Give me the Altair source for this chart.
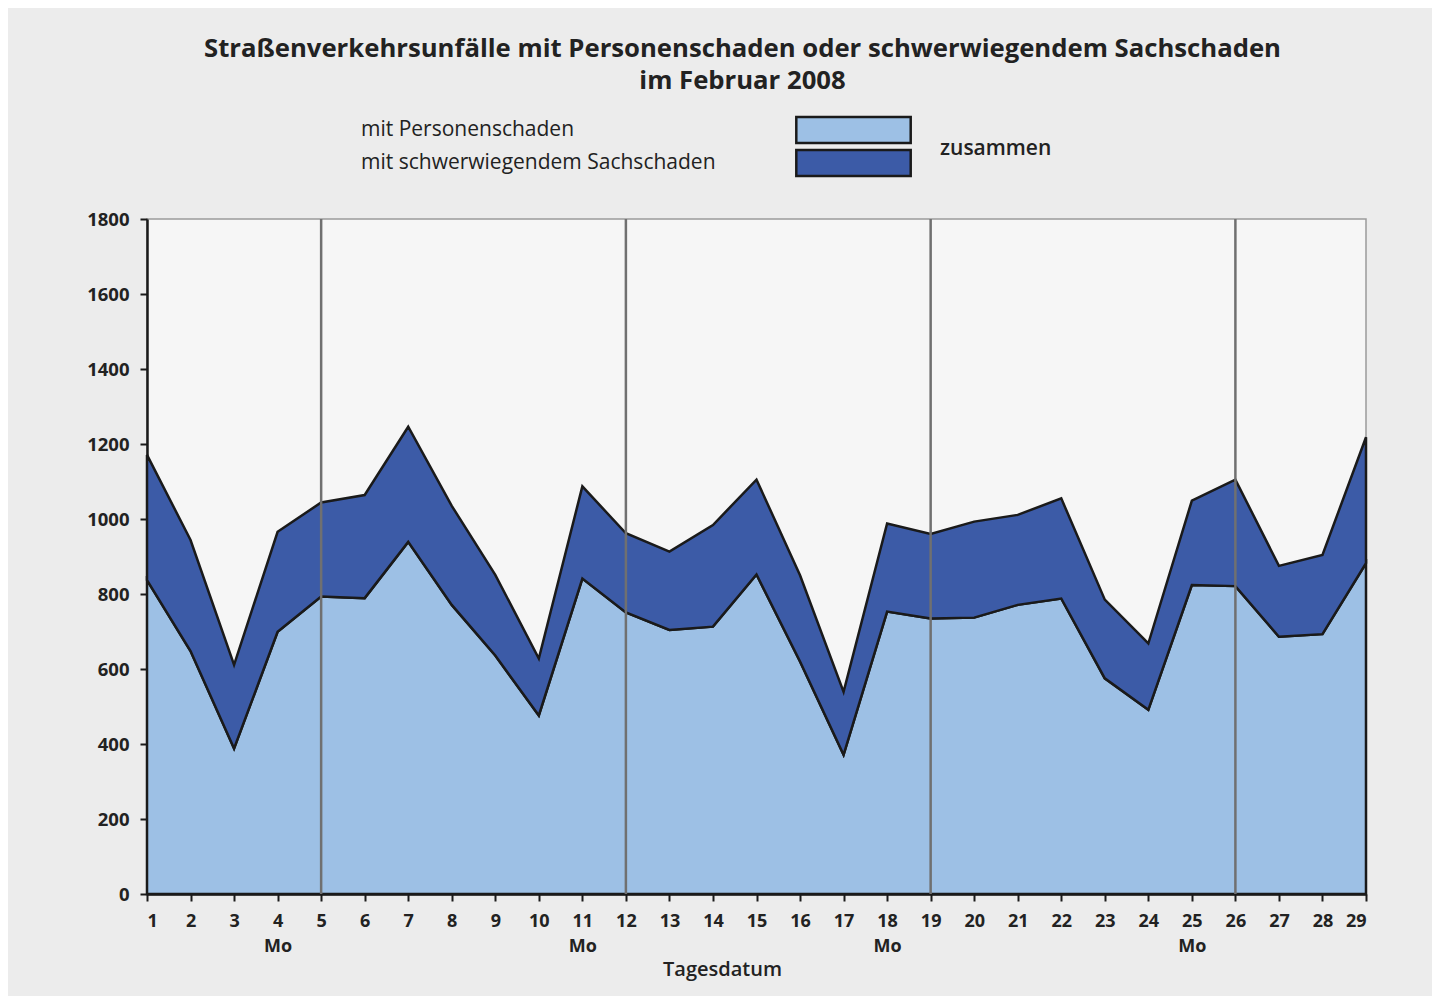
import altair as alt
import pandas as pd

# ---- data ----
days = list(range(1, 30))
personen = [837, 648, 388, 699, 793, 789, 939, 771, 636, 476, 841, 751, 704, 713, 852,
            620, 371, 753, 735, 737, 771, 788, 575, 491, 824, 821, 686, 693, 882]
sach = [334, 296, 223, 267, 251, 275, 307, 264, 215, 152, 246, 211, 209, 271, 253,
        230, 168, 235, 225, 256, 240, 267, 210, 177, 225, 284, 189, 211, 336]
series = ["mit Personenschaden", "mit schwerwiegendem Sachschaden"]
colors = ["#9DC0E5", "#3C5BA7"]
week_lines = [5, 12, 19, 26]
monday_days = [4, 11, 18, 25]
y_ticks = [0, 200, 400, 600, 800, 1000, 1200, 1400, 1600, 1800]
title_lines = ["Straßenverkehrsunfälle mit Personenschaden oder schwerwiegendem Sachschaden",
               "im Februar 2008"]

rows = []
for i, d in enumerate(days):
    rows.append({"Tag": d, "Art": series[0], "Anzahl": personen[i], "ord": 0})
    rows.append({"Tag": d, "Art": series[1], "Anzahl": sach[i], "ord": 1})
df = pd.DataFrame(rows)
lines_df = pd.DataFrame({"Tag": week_lines})

FONT = "Open Sans"
INK = "#222222"

mo_expr = "indexof([" + ",".join(str(m) for m in monday_days) + "], datum.value) >= 0 ? [datum.label, 'Mo'] : datum.label"

x_enc = alt.X(
    "Tag:Q",
    scale=alt.Scale(domain=[1, 29], nice=False, zero=False),
    axis=alt.Axis(
        values=days, format="d", labelExpr=mo_expr, labelLineHeight=25,
        labelFont=FONT, labelFontSize=18, labelFontWeight="bold", labelColor=INK,
        labelPadding=11, labelBaseline="top",
        tickSize=7, tickColor="#1a1a1a", tickWidth=2,
        domainColor="#1a1a1a", domainWidth=2.5, grid=False,
        title="Tagesdatum", titleFont=FONT, titleFontSize=20, titleFontWeight=600,
        titleColor=INK, titleX=575, titleY=75, titleBaseline="middle",
    ),
)

y_enc = alt.Y(
    "Anzahl:Q",
    stack="zero",
    scale=alt.Scale(domain=[0, 1800], nice=False),
    axis=alt.Axis(
        values=y_ticks, format="d",
        labelFont=FONT, labelFontSize=18.5, labelFontWeight="bold", labelColor=INK,
        labelPadding=11, tickSize=7, tickColor="#1a1a1a", tickWidth=2,
        domainColor="#1a1a1a", domainWidth=2.5, grid=False, title=None,
    ),
)

area = alt.Chart(df).mark_area(
    stroke="#1a1a1a", strokeWidth=2.5, strokeJoin="miter", opacity=1
).encode(
    x=x_enc,
    y=y_enc,
    order=alt.Order("ord:Q", sort="ascending"),
    color=alt.Color(
        "Art:N",
        scale=alt.Scale(domain=series, range=colors),
        legend=alt.Legend(
            orient="none", legendX=692, legendY=-103.5,
            title="zusammen", titleOrient="right", titleFont=FONT, titleFontSize=21,
            titleFontWeight=600, titleColor=INK, titlePadding=24,
            titleBaseline="middle", titleAnchor="middle",
            symbolType="M-4.4,-1H4.4V1H-4.4Z", symbolSize=676,
            symbolStrokeColor="#1a1a1a", symbolStrokeWidth=2.5, symbolOpacity=1,
            labelAlign="left", labelOffset={"expr": "-507"}, labelLimit=600,
            labelFont=FONT, labelFontSize=21, labelFontWeight=500, labelColor=INK,
            rowPadding={"expr": "-18"},
        ),
    ),
)

rules = alt.Chart(lines_df).mark_rule(color="#707070", strokeWidth=2.5).encode(
    x=alt.X("Tag:Q")
)

chart = alt.layer(area, rules).properties(
    width=1219,
    height=675,
    autosize=alt.AutoSizeParams(type="none"),
    padding={"left": 139, "top": 211, "right": 66, "bottom": 102},
    background="#ECECEC",
    title=alt.TitleParams(
        text=title_lines, font=FONT, fontSize=25.7, fontWeight="bold", color=INK,
        anchor="middle", dx=-14, offset=21, lineHeight=32,
    ),
).configure_view(
    fill="#F6F6F6", stroke="#9a9a9a", strokeWidth=1.5
)

chart.save("out.html", embed_options={"renderer": "svg", "actions": False})
